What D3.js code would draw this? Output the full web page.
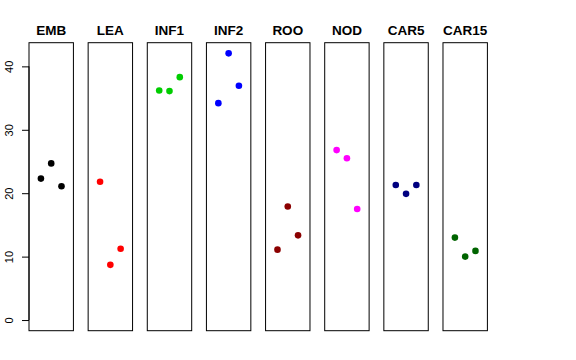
<!DOCTYPE html>
<html lang="en">
<head>
    <meta charset="UTF-8">
    <title>Panels</title>
    <script src="https://d3js.org/d3.v7.min.js"></script>
    <style>
        body { margin: 0; background: #fff; }
        text { font-family: "Liberation Sans", Arial, sans-serif; }
    </style>
</head>
<body>
    <script>
        // tissues, one panel each
        const tissues = ["EMB", "LEA", "INF1", "INF2", "ROO", "NOD", "CAR5", "CAR15"];
        const colors = ["#000000", "#ff0000", "#00cd00", "#0000ff", "#8b0000", "#ff00ff", "#000080", "#006400"];
        // three replicates per tissue
        const rep1 = [22.3, 21.8, 36.2, 34.2, 11.1, 26.8, 21.3, 13.0];
        const rep2 = [24.7, 8.7, 36.1, 42.05, 17.9, 25.5, 19.9, 10.0];
        const rep3 = [21.1, 11.25, 38.3, 36.95, 13.35, 17.5, 21.3, 10.9];
        const yTicks = [0, 10, 20, 30, 40];

        const width = 576, height = 360;
        const svg = d3.select("body").append("svg")
            .attr("width", width).attr("height", height);

        // panel positions
        const x = d3.scaleBand().domain(tissues)
            .range([29, 487.4]).paddingInner(0.249).paddingOuter(0);

        // y limits 0..max, with the usual 4% padding
        const yMaxVal = d3.max([...rep1, ...rep2, ...rep3]);
        const pad = yMaxVal * 0.04;
        const y = d3.scaleLinear().domain([-pad, yMaxVal + pad]).range([330.7, 42.7]);

        // position inside a panel: points at 1,2,3 on 0..4
        const xi = d3.scaleLinear().domain([-0.16, 4.16]).range([0, x.bandwidth()]);

        // left axis
        const axis = svg.append("g")
            .attr("transform", "translate(" + x(tissues[0]) + ",0)")
            .call(d3.axisLeft(y).tickValues(yTicks).tickSize(7).tickPadding(0).tickFormat(d3.format("d")));
        axis.select(".domain").attr("d", "M0," + y(0) + "V" + y(40)).attr("stroke", "#000");
        axis.selectAll(".tick line").attr("stroke", "#000");
        axis.selectAll(".tick text")
            .attr("x", null).attr("dy", null)
            .attr("transform", "translate(-16.5,0) rotate(-90)")
            .attr("text-anchor", "middle")
            .attr("fill", "#000")
            .style("font-size", "11px");

        const panels = svg.selectAll("g.panel")
            .data(tissues.map((t, i) => ({ t: t, c: colors[i], v: [rep1[i], rep2[i], rep3[i]] })))
            .enter().append("g")
            .attr("class", "panel")
            .attr("transform", d => "translate(" + x(d.t) + ",0)");

        panels.append("rect")
            .attr("x", 0).attr("y", y.range()[1])
            .attr("width", x.bandwidth())
            .attr("height", y.range()[0] - y.range()[1])
            .attr("fill", "none").attr("stroke", "#000").attr("stroke-width", 1);

        panels.append("text")
            .attr("x", x.bandwidth() / 2).attr("y", 34.5)
            .attr("text-anchor", "middle")
            .style("font-size", "13.5px").style("font-weight", "bold")
            .text(d => d.t);

        panels.selectAll("circle")
            .data(d => d.v.map((v, j) => ({ v: v, j: j + 1, c: d.c })))
            .enter().append("circle")
            .attr("cx", d => xi(d.j))
            .attr("cy", d => y(d.v))
            .attr("r", 3.3)
            .attr("fill", d => d.c);
    </script>
</body>
</html>
